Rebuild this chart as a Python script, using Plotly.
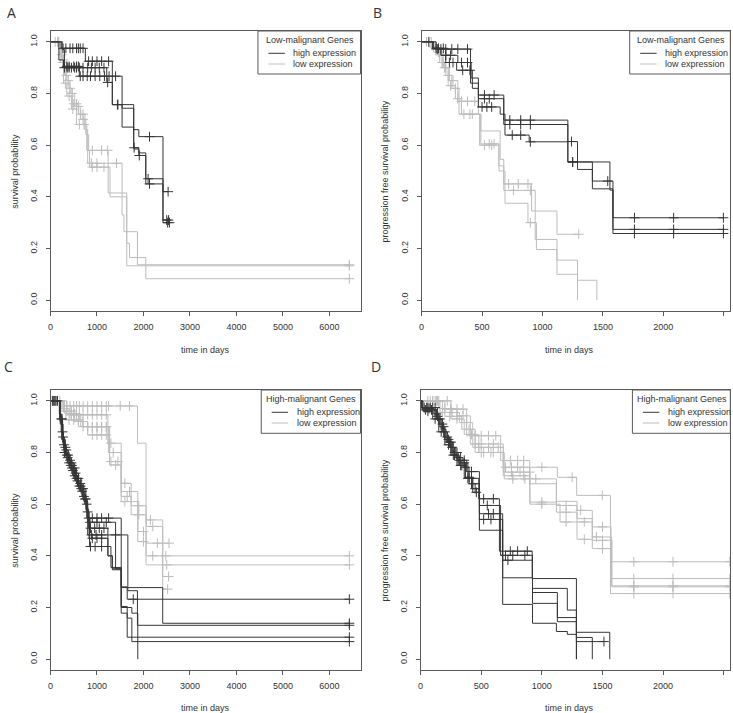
import plotly.graph_objects as go

# ---------------- data ----------------
# Panel A: overall survival, low-malignant genes
A_H1_T = [0, 230, 750, 1330, 1540, 1790, 1900, 2420]
A_H1_S = [1.0, 0.975, 0.925, 0.757, 0.743, 0.66, 0.633, 0.42]
A_H1_C = [270, 330, 420, 480, 560, 600, 640, 700, 820, 900, 1000, 1100, 1250, 1440, 2130, 2530]
A_H2_T = [0, 180, 280, 1210, 1330, 1540, 1790, 1900, 2050, 2420]
A_H2_S = [1.0, 0.93, 0.90, 0.843, 0.757, 0.67, 0.59, 0.57, 0.47, 0.31]
A_H2_C = [300, 360, 400, 450, 520, 560, 620, 700, 800, 880, 960, 1050, 1150, 1230, 1450, 1800, 2100, 2500, 2540]
A_H3_T = [0, 250, 300, 620, 1540, 1790, 1900, 2050, 2420]
A_H3_S = [1.0, 0.97, 0.905, 0.867, 0.757, 0.585, 0.56, 0.45, 0.30]
A_H3_C = [350, 400, 500, 560, 600, 640, 700, 790, 860, 960, 1060, 1160, 1260, 1400, 1910, 2130, 2520, 2560]
A_L1_T = [0, 200, 260, 330, 420, 520, 640, 760, 820, 1240, 1640]
A_L1_S = [1.0, 0.95, 0.90, 0.85, 0.80, 0.75, 0.70, 0.64, 0.58, 0.415, 0.133]
A_L1_C = [150, 240, 300, 380, 460, 560, 600, 700, 900, 1100, 1230, 6430]
A_L2_T = [0, 250, 300, 380, 470, 600, 740, 800, 1540, 1580, 1870]
A_L2_S = [1.0, 0.93, 0.87, 0.82, 0.76, 0.72, 0.66, 0.53, 0.33, 0.265, 0.137]
A_L2_C = [100, 180, 280, 340, 420, 500, 560, 650, 700, 880, 1000, 1420, 6430]
A_L3_T = [0, 220, 280, 350, 450, 560, 780, 840, 1280, 1640, 1700, 2050]
A_L3_S = [1.0, 0.92, 0.84, 0.79, 0.74, 0.68, 0.58, 0.515, 0.40, 0.22, 0.165, 0.083]
A_L3_C = [160, 260, 320, 400, 480, 620, 720, 900, 1000, 1150, 6430]

# Panel B: progression free survival, low-malignant genes
B_H1_T = [0, 120, 405, 470, 680, 1210, 1290, 1413, 1583]
B_H1_S = [1.0, 0.972, 0.84, 0.794, 0.697, 0.614, 0.506, 0.461, 0.319]
B_H1_C = [60, 130, 160, 200, 250, 300, 380, 520, 600, 730, 820, 900, 1240, 1540, 1761, 2085, 2497]
B_H2_T = [0, 90, 160, 300, 410, 470, 680, 1210, 1413, 1583]
B_H2_S = [1.0, 0.975, 0.948, 0.92, 0.86, 0.78, 0.68, 0.535, 0.431, 0.274]
B_H2_C = [120, 200, 240, 330, 380, 520, 560, 730, 820, 900, 1250, 1761, 2085, 2497]
B_H3_T = [0, 100, 200, 290, 420, 470, 650, 690, 890, 1210, 1558, 1583]
B_H3_S = [1.0, 0.975, 0.92, 0.89, 0.82, 0.748, 0.72, 0.639, 0.613, 0.535, 0.426, 0.258]
B_H3_C = [140, 180, 230, 260, 340, 400, 500, 540, 580, 750, 820, 900, 1250, 1761, 2085, 2497]
B_L1_T = [0, 80, 130, 180, 230, 300, 470, 490, 650, 680, 910, 1120]
B_L1_S = [1.0, 0.98, 0.95, 0.90, 0.85, 0.77, 0.72, 0.655, 0.545, 0.45, 0.345, 0.255]
B_L1_C = [40, 100, 150, 200, 260, 330, 380, 440, 720, 800, 880, 1300]
B_L2_T = [0, 100, 150, 200, 250, 310, 490, 640, 680, 940, 1120, 1290, 1450]
B_L2_S = [1.0, 0.97, 0.92, 0.87, 0.82, 0.72, 0.605, 0.52, 0.425, 0.235, 0.155, 0.077, 0.0]
B_L2_C = [60, 120, 170, 220, 280, 350, 400, 560, 600, 760, 900]
B_L3_T = [0, 120, 170, 220, 280, 330, 480, 640, 690, 880, 950, 1120, 1290]
B_L3_S = [1.0, 0.96, 0.90, 0.83, 0.78, 0.72, 0.60, 0.50, 0.375, 0.30, 0.196, 0.10, 0.0]
B_L3_C = [80, 140, 190, 240, 300, 420, 520, 580, 900]

# Panel C: overall survival, high-malignant genes
C_H1_T = [0, 190, 230, 280, 340, 420, 500, 600, 700, 780, 1521, 2414]
C_H1_S = [1.0, 0.95, 0.88, 0.82, 0.79, 0.75, 0.72, 0.68, 0.62, 0.546, 0.277, 0.139]
C_H1_C = [40, 100, 260, 320, 380, 460, 540, 640, 740, 820, 900, 1000, 1100, 1250, 6430]
C_H2_T = [0, 200, 250, 300, 380, 460, 560, 660, 760, 820, 1235, 1330, 1521, 1650]
C_H2_S = [1.0, 0.94, 0.86, 0.81, 0.77, 0.74, 0.70, 0.66, 0.58, 0.507, 0.40, 0.346, 0.28, 0.232]
C_H2_C = [80, 270, 340, 420, 520, 600, 700, 860, 950, 1050, 1150, 1780, 6430]
C_H3_T = [0, 195, 240, 290, 360, 440, 540, 640, 740, 800, 1664, 1870]
C_H3_S = [1.0, 0.93, 0.85, 0.80, 0.76, 0.73, 0.69, 0.65, 0.60, 0.481, 0.265, 0.131]
C_H3_C = [120, 230, 300, 400, 480, 580, 680, 780, 880, 980, 1100, 1400, 6430]
C_H4_T = [0, 205, 260, 320, 400, 480, 580, 680, 770, 830, 1235, 1330, 1521, 1650]
C_H4_S = [1.0, 0.92, 0.84, 0.79, 0.75, 0.71, 0.67, 0.63, 0.57, 0.468, 0.40, 0.35, 0.204, 0.085]
C_H4_C = [60, 350, 440, 520, 620, 720, 800, 900, 1000, 1100, 6430]
C_H5_T = [0, 210, 270, 330, 410, 500, 600, 700, 790, 840, 1300, 1521, 1650, 1750]
C_H5_S = [1.0, 0.91, 0.83, 0.78, 0.74, 0.70, 0.66, 0.62, 0.55, 0.436, 0.355, 0.178, 0.159, 0.068]
C_H5_C = [150, 290, 370, 460, 560, 660, 760, 860, 960, 1100, 6430]
C_H6_T = [0, 200, 260, 320, 400, 500, 600, 720, 800, 1400, 1521, 1750, 1878]
C_H6_S = [1.0, 0.93, 0.85, 0.80, 0.76, 0.71, 0.67, 0.61, 0.53, 0.35, 0.20, 0.178, 0.0]
C_H6_C = [250, 450, 650, 850, 1000, 1200]
C_L1_T = [0, 300, 1871, 2056, 2414]
C_L1_S = [1.0, 0.98, 0.836, 0.539, 0.40]
C_L1_C = [200, 350, 420, 500, 560, 620, 700, 800, 900, 1000, 1100, 1200, 1250, 1500, 1700, 2150, 2480, 6430]
C_L2_T = [0, 250, 400, 1235, 1521, 1735, 2056]
C_L2_S = [1.0, 0.97, 0.946, 0.836, 0.681, 0.594, 0.365]
C_L2_C = [300, 450, 500, 560, 620, 700, 800, 900, 1000, 1100, 1200, 1300, 1600, 1900, 2500, 6430]
C_L3_T = [0, 230, 330, 700, 1271, 1521, 1878, 2056]
C_L3_S = [1.0, 0.96, 0.926, 0.90, 0.752, 0.649, 0.494, 0.449]
C_L3_C = [400, 500, 600, 800, 900, 1000, 1100, 1200, 1400, 1700, 2000, 2300, 2550]
C_L4_T = [0, 280, 500, 800, 1271, 1521, 1735, 2056, 2414]
C_L4_S = [1.0, 0.96, 0.92, 0.868, 0.765, 0.63, 0.559, 0.514, 0.32]
C_L4_C = [350, 450, 600, 700, 900, 1000, 1100, 1200, 1300, 1450, 1650, 1900, 2200, 2540]
C_L5_T = [0, 350, 650, 1250, 1521, 1878, 2056, 2414]
C_L5_S = [1.0, 0.95, 0.90, 0.80, 0.61, 0.455, 0.40, 0.271]
C_L5_C = [420, 520, 700, 800, 900, 1000, 1100, 1200, 1350, 1600, 2000, 2200, 2520]

# Panel D: progression free survival, high-malignant genes
D_H1_T = [0, 5, 140, 180, 220, 270, 330, 390, 480, 650, 920, 1285, 1560]
D_H1_S = [1.0, 0.974, 0.93, 0.88, 0.84, 0.80, 0.76, 0.70, 0.621, 0.418, 0.312, 0.104, 0.0]
D_H1_C = [30, 60, 80, 120, 160, 200, 250, 300, 360, 420, 520, 600, 740, 800, 880]
D_H2_T = [0, 5, 120, 160, 200, 250, 300, 380, 485, 660, 923, 1210, 1285, 1416]
D_H2_S = [1.0, 0.974, 0.94, 0.90, 0.85, 0.80, 0.77, 0.726, 0.595, 0.402, 0.274, 0.19, 0.084, 0.0]
D_H2_C = [50, 100, 140, 190, 230, 280, 320, 360, 420, 550, 700, 760, 860]
D_H3_T = [0, 10, 110, 150, 190, 240, 290, 350, 400, 485, 677, 923, 1128, 1285]
D_H3_S = [1.0, 0.97, 0.95, 0.91, 0.86, 0.82, 0.78, 0.743, 0.679, 0.563, 0.383, 0.258, 0.145, 0.068]
D_H3_C = [70, 130, 180, 220, 260, 310, 370, 430, 560, 600, 720, 1512]
D_H4_T = [0, 15, 130, 170, 210, 260, 310, 370, 430, 485, 677, 923, 1128, 1285]
D_H4_S = [1.0, 0.965, 0.93, 0.89, 0.84, 0.79, 0.75, 0.704, 0.646, 0.541, 0.315, 0.216, 0.161, 0.0]
D_H4_C = [40, 90, 150, 240, 280, 340, 400, 460, 520, 580]
D_H5_T = [0, 20, 100, 150, 200, 250, 300, 360, 420, 485, 677, 923, 1120, 1210, 1285]
D_H5_S = [1.0, 0.96, 0.93, 0.88, 0.83, 0.79, 0.75, 0.70, 0.66, 0.499, 0.212, 0.139, 0.107, 0.096, 0.0]
D_H5_C = [60, 120, 170, 230, 270, 330, 390, 450]
D_L1_T = [0, 180, 380, 660, 900, 1128, 1287, 1566]
D_L1_S = [1.0, 0.968, 0.865, 0.769, 0.743, 0.704, 0.634, 0.377]
D_L1_C = [60, 100, 150, 250, 300, 350, 450, 500, 560, 620, 740, 800, 850, 1000, 1250, 1498, 1758, 2081, 2550]
D_L2_T = [0, 150, 300, 410, 682, 901, 1120, 1290, 1416, 1570]
D_L2_S = [1.0, 0.97, 0.942, 0.833, 0.743, 0.698, 0.611, 0.576, 0.512, 0.312]
D_L2_C = [80, 120, 200, 250, 350, 450, 500, 600, 700, 750, 800, 850, 950, 1320, 1500, 1758, 2081, 2550]
D_L3_T = [0, 160, 320, 430, 682, 901, 1120, 1290, 1416, 1575]
D_L3_S = [1.0, 0.955, 0.916, 0.82, 0.724, 0.679, 0.595, 0.544, 0.473, 0.284]
D_L3_C = [100, 180, 260, 380, 480, 560, 640, 750, 820, 900, 1200, 1450, 1758, 2081, 2550]
D_L4_T = [0, 200, 340, 450, 682, 901, 1120, 1290, 1416, 1578]
D_L4_S = [1.0, 0.94, 0.89, 0.80, 0.71, 0.608, 0.569, 0.531, 0.46, 0.28]
D_L4_C = [140, 240, 300, 400, 500, 580, 760, 850, 1000, 1200, 1350, 1500, 1758, 2081, 2550]
D_L5_T = [0, 250, 360, 480, 690, 901, 1150, 1290, 1416, 1566]
D_L5_S = [1.0, 0.93, 0.87, 0.80, 0.698, 0.60, 0.531, 0.464, 0.428, 0.254]
D_L5_C = [130, 220, 300, 420, 520, 600, 760, 860, 1000, 1200, 1350, 1500, 1758, 2081, 2550]

Y_TICKS = [0.0, 0.2, 0.4, 0.6, 0.8, 1.0]
Y_TICKTEXT = ["0.0", "0.2", "0.4", "0.6", "0.8", "1.0"]
X_TICKS_LONG = [0, 1000, 2000, 3000, 4000, 5000, 6000]
X_TICKS_SHORT = [0, 500, 1000, 1500, 2000, 2500]
LEGEND_TITLES = ["Low-malignant Genes", "Low-malignant Genes", "High-malignant Genes", "High-malignant Genes"]
LEGEND_ITEMS = ["high expression", "low expression"]
Y_TITLES = ["survival probability", "progression free survival probability",
            "survival probability", "progression free survival probability"]
X_TITLE = "time in days"
PANEL_LETTERS = ["A", "B", "C", "D"]

# ---------------- styling / layout ----------------
W, H = 733, 713
DARK = "#363636"
LIGHT = "#bdbdbd"
AXC = "#5a5a5a"
TXT = "#333333"
FONT = "Liberation Sans, Arial, sans-serif"


def px(x):
    return x / W


def py(y):
    return 1 - y / H


panels = [
    dict(name="A", box=(47.7, 31, 359, 311), xr=[0, 6670], xt=X_TICKS_LONG,
         high=[(A_H1_T, A_H1_S, A_H1_C), (A_H2_T, A_H2_S, A_H2_C), (A_H3_T, A_H3_S, A_H3_C)],
         low=[(A_L1_T, A_L1_S, A_L1_C), (A_L2_T, A_L2_S, A_L2_C), (A_L3_T, A_L3_S, A_L3_C)],
         leg=(256, 31, 359, 74), letter=(9, 12.5), ytit=(11.7, 171), xtit=(203, 350)),
    dict(name="B", box=(420.3, 31, 730.3, 311), xr=[0, 2554], xt=X_TICKS_SHORT,
         high=[(B_H1_T, B_H1_S, B_H1_C), (B_H2_T, B_H2_S, B_H2_C), (B_H3_T, B_H3_S, B_H3_C)],
         low=[(B_L1_T, B_L1_S, B_L1_C), (B_L2_T, B_L2_S, B_L2_C), (B_L3_T, B_L3_S, B_L3_C)],
         leg=(629.3, 31, 730.3, 74), letter=(376, 12), ytit=(384, 171), xtit=(569, 350)),
    dict(name="C", box=(47.7, 390, 359, 670), xr=[0, 6670], xt=X_TICKS_LONG,
         high=[(C_H1_T, C_H1_S, C_H1_C), (C_H2_T, C_H2_S, C_H2_C), (C_H3_T, C_H3_S, C_H3_C),
               (C_H4_T, C_H4_S, C_H4_C), (C_H5_T, C_H5_S, C_H5_C), (C_H6_T, C_H6_S, C_H6_C)],
         low=[(C_L1_T, C_L1_S, C_L1_C), (C_L2_T, C_L2_S, C_L2_C), (C_L3_T, C_L3_S, C_L3_C),
              (C_L4_T, C_L4_S, C_L4_C), (C_L5_T, C_L5_S, C_L5_C)],
         leg=(259.3, 390, 359, 433.3), letter=(5.5, 367), ytit=(11.7, 530), xtit=(203, 708)),
    dict(name="D", box=(419.3, 390, 730.3, 670), xr=[0, 2554], xt=X_TICKS_SHORT,
         high=[(D_H1_T, D_H1_S, D_H1_C), (D_H2_T, D_H2_S, D_H2_C), (D_H3_T, D_H3_S, D_H3_C),
               (D_H4_T, D_H4_S, D_H4_C), (D_H5_T, D_H5_S, D_H5_C)],
         low=[(D_L1_T, D_L1_S, D_L1_C), (D_L2_T, D_L2_S, D_L2_C), (D_L3_T, D_L3_S, D_L3_C),
              (D_L4_T, D_L4_S, D_L4_C), (D_L5_T, D_L5_S, D_L5_C)],
         leg=(632, 390, 730.3, 433.3), letter=(374.7, 367), ytit=(384, 530), xtit=(569, 708)),
]


def step_value(T, S, t):
    v = S[0]
    for ti, si in zip(T, S):
        if ti <= t:
            v = si
    return v


fig = go.Figure()
layout = dict(width=W, height=H, margin=dict(l=0, r=0, t=0, b=0),
              paper_bgcolor="white", plot_bgcolor="white", showlegend=False,
              font=dict(family=FONT, size=9, color=TXT))
shapes, annos = [], []

for i, p in enumerate(panels):
    k = "" if i == 0 else str(i + 1)
    xa, ya = "x" + k, "y" + k
    x0, y0, x1, y1 = p["box"]
    for group, col in ((p["low"], LIGHT), (p["high"], DARK)):
        for T, S, C in group:
            end = max(T[-1], max(C) if C else 0)
            xs = list(T) + ([end] if end > T[-1] else [])
            ys = list(S) + ([S[-1]] if end > T[-1] else [])
            fig.add_trace(go.Scatter(x=xs, y=ys, mode="lines", line=dict(color=col, width=1, shape="hv"),
                                     xaxis=xa, yaxis=ya, hoverinfo="skip"))
            fig.add_trace(go.Scatter(x=C, y=[step_value(T, S, c) for c in C], mode="markers",
                                     marker=dict(symbol="cross-thin", size=7, line=dict(color=col, width=1)),
                                     xaxis=xa, yaxis=ya, hoverinfo="skip"))
    axis_common = dict(showgrid=False, zeroline=False, showline=True, mirror=True, linecolor=AXC,
                       linewidth=1, ticks="outside", ticklen=4, tickcolor=AXC, tickwidth=1,
                       tickfont=dict(family=FONT, size=9, color=TXT))
    layout["xaxis" + k] = dict(axis_common, domain=[px(x0), px(x1)], range=p["xr"], tickvals=p["xt"],
                               anchor=ya, ticklabelstandoff=3)
    layout["yaxis" + k] = dict(axis_common, domain=[py(y1), py(y0)], range=[-0.042, 1.042],
                               tickvals=Y_TICKS, ticktext=Y_TICKTEXT, tickangle=-90, anchor=xa,
                               ticklabelstandoff=5)
    # legend box
    lx0, ly0, lx1, ly1 = p["leg"]
    shapes.append(dict(type="rect", xref="paper", yref="paper", x0=px(lx0), x1=px(lx1), y0=py(ly1), y1=py(ly0),
                       line=dict(color=AXC, width=1), fillcolor="white", layer="above"))
    annos.append(dict(xref="paper", yref="paper", x=px((lx0 + lx1) / 2 + 0.5), y=py(ly0 + 8.7), text=LEGEND_TITLES[i],
                      showarrow=False, xanchor="center", yanchor="middle", font=dict(size=9, color=TXT)))
    for j, (lab, col) in enumerate(zip(LEGEND_ITEMS, (DARK, LIGHT))):
        yy = ly0 + 22.3 + j * 10.7
        shapes.append(dict(type="line", xref="paper", yref="paper", x0=px(lx0 + 10.5), x1=px(lx0 + 27),
                           y0=py(yy), y1=py(yy), line=dict(color=col, width=1), layer="above"))
        annos.append(dict(xref="paper", yref="paper", x=px(lx0 + 33.5), y=py(yy), text=lab, showarrow=False,
                          xanchor="left", yanchor="middle", font=dict(size=9, color=TXT)))
    # titles
    annos.append(dict(xref="paper", yref="paper", x=px(p["ytit"][0]), y=py(p["ytit"][1]), text=Y_TITLES[i],
                      textangle=-90, showarrow=False, xanchor="center", yanchor="middle",
                      font=dict(size=9, color=TXT)))
    annos.append(dict(xref="paper", yref="paper", x=px(p["xtit"][0]), y=py(p["xtit"][1]), text=X_TITLE,
                      showarrow=False, xanchor="center", yanchor="middle", font=dict(size=9, color=TXT)))
    annos.append(dict(xref="paper", yref="paper", x=px(p["letter"][0]), y=py(p["letter"][1]),
                      text=PANEL_LETTERS[i], showarrow=False, xanchor="center", yanchor="middle",
                      font=dict(family="Open Sans, sans-serif", size=14, color=TXT)))

layout["shapes"] = shapes
layout["annotations"] = annos
fig.update_layout(**layout)
fig.write_html("out.html", config={"displayModeBar": False},
               post_script="document.body.style.margin='0';document.body.style.overflow='hidden';")
